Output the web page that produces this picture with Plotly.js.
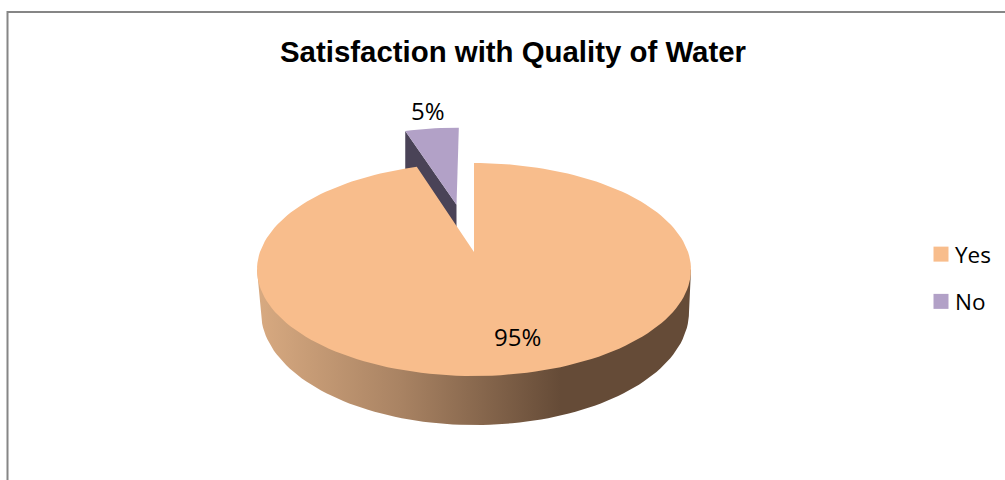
<!DOCTYPE html>
<html>
<head>
<meta charset="utf-8">
<script src="https://cdn.plot.ly/plotly-3.0.1.min.js"></script>
<style>html,body{margin:0;padding:0;background:#fff;overflow:hidden}</style>
</head>
<body>
<div id="chart" style="width:1005px;height:480px"></div>
<script>
const categories = ["Yes", "No"];
const values = [95, 5];
const sliceColors = ["#f8bd8c", "#b2a1c7"];
const noWallColor = "#4a4357";
const chartTitle = "Satisfaction with Quality of Water";

// camera model of the tilted disc: a unit circle seen in perspective
const topRim = {cx: 474, cy: 269.5, rx: 217, ry: 106.5};
const bottomRim = {cx: 475, cy: 312, rx: 214, ry: 113};
const k = 0.164;          // perspective strength
const pull = 0.5;         // explosion of the "No" slice
const wallDepth = 40;

const total = values.reduce((a, b) => a + b, 0);

function project(u, v) {
  const d = 1 + k * v;
  return [topRim.cx + topRim.rx * u * Math.sqrt(1 - k * k) / d,
          topRim.cy - topRim.ry * (v + k) / d];
}
// angle in degrees, clockwise from the top
function rimPoint(deg, ox, oy) {
  const a = deg * Math.PI / 180;
  return project(Math.sin(a) + ox, Math.cos(a) + oy);
}
function sector(startDeg, endDeg, ox, oy) {
  const pts = [project(ox, oy)];
  const n = Math.max(2, Math.ceil(Math.abs(endDeg - startDeg) / 2));
  for (let i = 0; i <= n; i++) pts.push(rimPoint(startDeg + (endDeg - startDeg) * i / n, ox, oy));
  pts.push(project(ox, oy));
  return pts;
}
function polyTrace(pts, color, extra) {
  return Object.assign({
    type: "scatter", mode: "lines", x: pts.map(p => p[0]), y: pts.map(p => p[1]),
    fill: "toself", fillcolor: color, line: {width: 0, color: color},
    hoverinfo: "skip", showlegend: false
  }, extra || {});
}

const yesSweep = 360 * values[0] / total;
const noSweep = 360 * values[1] / total;
const mid = -noSweep / 2 * Math.PI / 180;
const ox = Math.sin(mid) * pull - 0.01, oy = Math.cos(mid) * pull;

const yesTop = sector(0, yesSweep, 0, 0);
const noTop = sector(yesSweep, 360, ox, oy);

// dark inner wall of the pulled slice
const noApex = project(ox, oy);
const noLeft = rimPoint(yesSweep, ox, oy);
const noWall = [noLeft, noApex, [noApex[0], noApex[1] + wallDepth], [noLeft[0], noLeft[1] + wallDepth]];

// outer wall of the large slice
const yesWall = [];
for (let i = 0; i <= 90; i++) {
  const a = Math.PI - i * Math.PI / 90;
  yesWall.push([bottomRim.cx + bottomRim.rx * Math.cos(a), bottomRim.cy + bottomRim.ry * Math.sin(a)]);
}
yesWall.unshift([topRim.cx - topRim.rx, topRim.cy]);
yesWall.push([topRim.cx + topRim.rx, topRim.cy]);

const traces = [
  polyTrace(noWall, noWallColor),
  polyTrace(noTop, sliceColors[1]),
  polyTrace(yesWall, "#a07c5e", {
    fillgradient: {type: "horizontal", start: 257, stop: 691,
      colorscale: [[0, "#d8aa81"], [0.33, "#a98363"], [0.70, "#654b37"], [1, "#654b37"]]}
  }),
  polyTrace(yesTop, sliceColors[0])
];
categories.forEach((c, i) => traces.push({
  type: "scatter", mode: "markers", x: [null], y: [null], name: c, legendgroup: c,
  marker: {symbol: "square", size: 15, color: sliceColors[i]}, hoverinfo: "skip"
}));

const labelFont = {family: "Open Sans, sans-serif", size: 24, color: "#000"};
const legendFont = {family: "Open Sans, sans-serif", size: 22.5, color: "#000"};
const layout = {
  width: 1005, height: 480, margin: {l: 0, r: 0, t: 0, b: 0},
  paper_bgcolor: "#fff", plot_bgcolor: "#fff",
  xaxis: {range: [0, 1005], visible: false, fixedrange: true},
  yaxis: {range: [480, 0], visible: false, fixedrange: true},
  title: {text: "<b>" + chartTitle + "</b>", x: 513 / 1005, xanchor: "center", y: 1 - 52 / 480, yanchor: "middle",
          font: {family: "Liberation Sans, Arial, sans-serif", size: 29.4, color: "#000"}},
  shapes: [{type: "rect", xref: "x", yref: "y", x0: 7.5, y0: 12, x1: 1015, y1: 495,
            line: {color: "#868686", width: 2}, fillcolor: "rgba(0,0,0,0)", layer: "below"}],
  annotations: [
    {x: 517, y: 336, text: Math.round(100 * values[0] / total) + "%", showarrow: false, font: labelFont},
    {x: 428, y: 110, text: Math.round(100 * values[1] / total) + "%", showarrow: false, font: labelFont}
  ],
  legend: {x: 921 / 1005, xanchor: "left", y: 1 - 233 / 480, yanchor: "top",
           bgcolor: "rgba(0,0,0,0)", font: legendFont, tracegroupgap: 15, itemclick: false, itemdoubleclick: false},
  showlegend: true
};
Plotly.newPlot("chart", traces, layout, {displayModeBar: false, staticPlot: true}).then(() => {
  document.querySelectorAll(".legendtext").forEach(t => t.setAttribute("x", +t.getAttribute("x") - 6));
});
</script>
</body>
</html>
